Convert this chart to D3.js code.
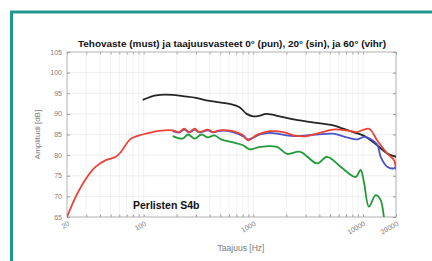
<!DOCTYPE html>
<html><head><meta charset="utf-8">
<script src="https://cdn.jsdelivr.net/npm/d3@7/dist/d3.min.js"></script>
<style>body{margin:0;background:#fff;}svg{display:block;}</style>
</head><body>
<svg id="c" width="432" height="261"></svg>
<script>
const xTicks = [20, 100, 1000, 10000, 20000];
const yTicks = [65, 70, 75, 80, 85, 90, 95, 100, 105];

const blackF = [98,130,184,227,300,372,492,608,749,870,1000,1151,1314,1867,2650,3766,5350,6600,8120,10000,10900,13460,16660,19800,20000];
const blackV = [93.4,94.5,94.6,94.3,93.9,93.3,92.8,92.4,91.6,90.0,89.4,89.6,90.0,89.2,88.4,87.8,87.2,86.4,85.6,84.8,84.2,82.4,80.4,79.6,79.5];

const redF = [20,24,29.8,36.6,45.2,55.8,62.1,76.6,97.9,121,139,184,211,234,261,292,322,385,428,492,651,806,895,1060,1151,1420,1878,2320,3070,3780,5360,7100,8780,11330,13460,16660,19150,20000];
const redV = [65,69.9,74.3,77.2,78.8,79.6,80.8,84.0,85.0,85.6,85.9,86.0,85.6,86.4,85.6,86.4,85.6,86.2,85.6,86.0,85.8,84.8,83.6,84.8,85.2,85.8,85.6,84.8,84.6,85.2,86.2,86.0,85.6,86.4,83.6,80.4,78.8,76.5];

const blueF = [184,211,234,261,292,322,385,428,492,651,806,895,1060,1151,1420,2320,3780,5360,7100,8780,10400,13460,14500,16660,19150,20000];
const blueV = [85.8,85.5,86.2,85.5,86.2,85.5,86.0,85.5,85.9,85.6,84.6,83.8,84.6,85.0,85.4,84.6,85.0,85.2,84.3,83.8,84.4,82.6,79.6,77.2,76.8,77.2];

const greenF = [184,227,254,292,336,385,442,510,651,806,926,1151,1638,2025,2680,3810,4710,6240,8560,9510,10200,11330,13040,14500,15550,16000];
const greenV = [84.6,84.0,85.0,84.0,85.0,84.3,84.8,83.8,83.1,82.4,81.4,82.0,82.0,80.3,80.8,78.0,79.6,77.2,74.7,76.4,73.5,67.5,70.3,69.1,65,64];

const svg = d3.select("#c");
const L = 67, R = 396, T = 52, B = 217;
const x = d3.scaleLog().domain([20, 20000]).range([L, R]);
const y = d3.scaleLinear().domain([65, 105]).range([B, T]);
const FF = "Liberation Sans, Arial, sans-serif";

// teal frame
svg.append("rect").attr("x", 11.5).attr("y", 12).attr("width", 440).attr("height", 270)
  .attr("fill", "none").attr("stroke", "#22978f").attr("stroke-width", 3);

// minor gridlines
const minors = [];
for (let d = 10; d <= 10000; d *= 10) for (let k = 1; k <= 9; k++) { const v = d * k; if (v >= 20 && v <= 20000) minors.push(v); }
minors.push(20000);
const g = svg.append("g");
g.selectAll(".vg").data(minors).enter().append("line")
  .attr("x1", d => x(d)).attr("x2", d => x(d)).attr("y1", T).attr("y2", B)
  .attr("stroke", "#ececec").attr("stroke-width", 0.7);
g.selectAll(".hg").data(yTicks).enter().append("line")
  .attr("x1", L).attr("x2", R).attr("y1", d => y(d)).attr("y2", d => y(d))
  .attr("stroke", "#e6e6e6").attr("stroke-width", 0.7);

// axes with inside ticks
const ax = svg.append("g").attr("transform", `translate(0,${B})`)
  .call(d3.axisBottom(x).tickValues(minors).tickSize(-2.5).tickFormat(""));
ax.select(".domain").remove();
ax.selectAll("line").attr("stroke", "#999");
const axT = svg.append("g").attr("transform", `translate(0,${T})`)
  .call(d3.axisTop(x).tickValues(minors).tickSize(-2.5).tickFormat(""));
axT.select(".domain").remove();
axT.selectAll("line").attr("stroke", "#aaa");
const ay = svg.append("g").attr("transform", `translate(${L},0)`)
  .call(d3.axisLeft(y).tickValues(yTicks).tickSize(-3).tickFormat(""));
ay.select(".domain").remove();
ay.selectAll("line").attr("stroke", "#999");
const ayR = svg.append("g").attr("transform", `translate(${R},0)`)
  .call(d3.axisRight(y).tickValues(yTicks).tickSize(-3).tickFormat(""));
ayR.select(".domain").remove();
ayR.selectAll("line").attr("stroke", "#999");

svg.append("rect").attr("x", L).attr("y", T).attr("width", R - L).attr("height", B - T)
  .attr("fill", "none").attr("stroke", "#aaa").attr("stroke-width", 0.8);

// tick labels
svg.selectAll(".yl").data(yTicks).enter().append("text")
  .attr("x", L - 5).attr("y", d => y(d) + 2.5).attr("text-anchor", "end")
  .attr("font-family", FF).attr("font-size", 7)
  .attr("fill", "#808080").text(d => d);
svg.selectAll(".xl").data(xTicks).enter().append("text")
  .attr("transform", d => `translate(${x(d) + 3},${B + 8}) rotate(-30)`)
  .attr("text-anchor", "end")
  .attr("font-family", FF).attr("font-size", 7)
  .attr("fill", "#808080").text(d => d);

// clip
svg.append("clipPath").attr("id", "clp").append("rect")
  .attr("x", L).attr("y", T).attr("width", R - L).attr("height", B - T);
const plot = svg.append("g").attr("clip-path", "url(#clp)");
const line = d3.line().x(d => x(d[0])).y(d => y(d[1])).curve(d3.curveCatmullRom.alpha(0.5));
function draw(F, V, col) {
  plot.append("path").datum(F.map((f, i) => [f, V[i]]))
    .attr("d", line).attr("fill", "none").attr("stroke", col)
    .attr("stroke-width", 1.8).attr("stroke-linejoin", "round");
}
draw(blackF, blackV, "#262626");
draw(greenF, greenV, "#22993a");
draw(blueF, blueV, "#4a55c8");
draw(redF, redV, "#ec4238");

// texts
svg.append("text").attr("x", 232).attr("y", 47).attr("text-anchor", "middle")
  .attr("font-family", FF).attr("font-size", 9)
  .attr("textLength", 308).attr("lengthAdjust", "spacingAndGlyphs")
  .attr("font-weight", "bold").attr("fill", "#111")
  .text("Tehovaste (must) ja taajuusvasteet 0° (pun), 20° (sin), ja 60° (vihr)");
svg.append("text").attr("x", 133).attr("y", 208.5)
  .attr("font-family", FF).attr("font-size", 10.5)
  .attr("font-weight", "bold").attr("fill", "#111").text("Perlisten S4b");
svg.append("text").attr("x", 241).attr("y", 251).attr("text-anchor", "middle")
  .attr("font-family", FF).attr("font-size", 8.5)
  .attr("fill", "#7a7a7a").text("Taajuus [Hz]");
svg.append("text").attr("transform", `translate(40,134.5) rotate(-90)`).attr("text-anchor", "middle")
  .attr("font-family", FF).attr("font-size", 8)
  .attr("fill", "#7a7a7a").text("Amplitudi [dB]");
</script>
</body></html>
